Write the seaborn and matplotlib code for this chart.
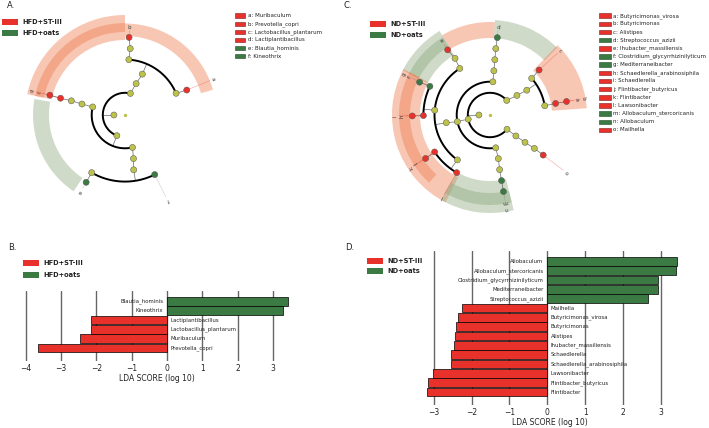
import numpy as np
import pandas as pd
import matplotlib
matplotlib.use("Agg")
import matplotlib.pyplot as plt
from matplotlib.patches import Wedge, Rectangle
import seaborn as sns

sns.set_theme(style="white")
plt.rcParams["font.family"] = ["DejaVu Sans"]

W, H = 709, 428
RED = "#e8312b"
GREEN = "#3b7a43"
NODE = "#bdc24a"
BAND_RED = "#f07a4e"
BAND_GREEN = "#8da97e"

# ---------------- Panel B data ----------------
b_taxa = ["Blautia_hominis", "Kineothrix", "Lactiplantibacillus",
          "Lactobacillus_plantarum", "Muribaculum", "Prevotella_copri"]
b_lda = [3.42, 3.30, -2.15, -2.15, -2.46, -3.65]
b_group = ["HFD+oats", "HFD+oats", "HFD+ST-III", "HFD+ST-III", "HFD+ST-III", "HFD+ST-III"]
b_groups = ["HFD+ST-III", "HFD+oats"]
b_ticks = [-4, -3, -2, -1, 0, 1, 2, 3]

# ---------------- Panel D data ----------------
d_taxa = ["Allobaculum", "Allobaculum_stercoricanis", "Clostridium_glycyrrhizinilyticum",
          "Mediterraneibacter", "Streptococcus_azizii", "Mailhella", "Butyricimonas_virosa",
          "Butyricimonas", "Alistipes", "Ihubacter_massiliensis", "Schaedlerella",
          "Schaedlerella_arabinosiphila", "Lawsonibacter", "Flintibacter_butyricus", "Flintibacter"]
d_lda = [3.42, 3.40, 2.94, 2.94, 2.66, -2.25, -2.35, -2.42, -2.44, -2.47,
         -2.55, -2.55, -3.02, -3.16, -3.19]
d_group = ["ND+oats"] * 5 + ["ND+ST-III"] * 10
d_groups = ["ND+ST-III", "ND+oats"]
d_ticks = [-3, -2, -1, 0, 1, 2, 3]

# ---------------- Panel A cladogram (taxonomy tree) ----------------
a_node = ["root", "Bacteria", "Bacteroidetes", "Bacteroidia", "Bacteroidales",
          "Prevotellaceae", "Prevotella", "Prevotella_copri", "Muribaculaceae", "Muribaculum",
          "Firmicutes", "Bacilli", "Lactobacillales", "Lactobacillaceae", "Lactiplantibacillus",
          "Lactobacillus_plantarum", "Clostridia", "Lachnospirales", "Lachnospiraceae",
          "Blautia", "Blautia_hominis", "Kineothrix"]
a_parent = [None, "root", "Bacteria", "Bacteroidetes", "Bacteroidia",
            "Bacteroidales", "Prevotellaceae", "Prevotella", "Bacteroidales", "Muribaculaceae",
            "Bacteria", "Firmicutes", "Bacilli", "Lactobacillales", "Lactobacillaceae",
            "Lactiplantibacillus", "Firmicutes", "Clostridia", "Lachnospirales",
            "Lachnospiraceae", "Blautia", "Lachnospiraceae"]
a_level = [0, 1, 2, 3, 4, 5, 6, 7, 5, 6, 2, 3, 4, 5, 6, 7, 3, 4, 5, 6, 7, 6]
a_biomarkers = ["Muribaculum", "Prevotella_copri", "Lactobacillus_plantarum",
                "Lactiplantibacillus", "Blautia_hominis", "Kineothrix"]
a_bio_group = ["HFD+ST-III"] * 4 + ["HFD+oats"] * 2
a_groups = ["HFD+ST-III", "HFD+oats"]

# ---------------- Panel C cladogram ----------------
c_node = ["root", "Bacteria",
          "Bacteroidetes", "Bacteroidia", "Bacteroidales", "Rikenellaceae", "Alistipes",
          "Odoribacteraceae", "Butyricimonas", "Butyricimonas_virosa",
          "Firmicutes", "Bacilli", "Lactobacillales", "Streptococcaceae", "Streptococcus",
          "Streptococcus_azizii",
          "Clostridia", "Eubacteriales", "Eubacteriaceae", "Ihubacter", "Ihubacter_massiliensis",
          "Lachnospiraceae", "Mediterraneibacter", "Clostridium_glycyrrhizinilyticum",
          "Schaedlerella", "Schaedlerella_arabinosiphila",
          "Oscillospiraceae", "Flintibacter", "Flintibacter_butyricus", "Lawsonibacter",
          "Erysipelotrichia", "Erysipelotrichales", "Erysipelotrichaceae", "Allobaculum",
          "Allobaculum_stercoricanis",
          "Proteobacteria", "Deltaproteobacteria", "Desulfovibrionales", "Desulfovibrionaceae",
          "Mailhella"]
c_parent = [None, "root",
            "Bacteria", "Bacteroidetes", "Bacteroidia", "Bacteroidales", "Rikenellaceae",
            "Bacteroidales", "Odoribacteraceae", "Butyricimonas",
            "Bacteria", "Firmicutes", "Bacilli", "Lactobacillales", "Streptococcaceae",
            "Streptococcus",
            "Firmicutes", "Clostridia", "Eubacteriales", "Eubacteriaceae", "Ihubacter",
            "Eubacteriales", "Lachnospiraceae", "Mediterraneibacter",
            "Lachnospiraceae", "Schaedlerella",
            "Eubacteriales", "Oscillospiraceae", "Flintibacter", "Oscillospiraceae",
            "Firmicutes", "Erysipelotrichia", "Erysipelotrichales", "Erysipelotrichaceae",
            "Allobaculum",
            "Bacteria", "Proteobacteria", "Deltaproteobacteria", "Desulfovibrionales",
            "Desulfovibrionaceae"]
c_level = [0, 1, 2, 3, 4, 5, 6, 5, 6, 7,
           2, 3, 4, 5, 6, 7,
           3, 4, 5, 6, 7, 5, 6, 7, 6, 7, 5, 6, 7, 6,
           3, 4, 5, 6, 7,
           2, 3, 4, 5, 6]
c_biomarkers = ["Butyricimonas_virosa", "Butyricimonas", "Alistipes", "Streptococcus_azizii",
                "Ihubacter_massiliensis", "Clostridium_glycyrrhizinilyticum", "Mediterraneibacter",
                "Schaedlerella_arabinosiphila", "Schaedlerella", "Flintibacter_butyricus",
                "Flintibacter", "Lawsonibacter", "Allobaculum_stercoricanis", "Allobaculum",
                "Mailhella"]
c_bio_group = ["ND+ST-III", "ND+ST-III", "ND+ST-III", "ND+oats", "ND+ST-III", "ND+oats",
               "ND+oats", "ND+ST-III", "ND+ST-III", "ND+ST-III", "ND+ST-III", "ND+ST-III",
               "ND+oats", "ND+oats", "ND+ST-III"]
c_groups = ["ND+ST-III", "ND+oats"]

# ---------------- layout (angles of the circular tree, shading rings) ----------------
a_theta = [0, 180, 76, 70.5, 67, 86, 85.5, 87, 23, 22, 248.5, 166, 165.7, 165.2, 165.4,
           165.2, 283, 281, 279, 240, 240, 296.5]
c_theta = [0, 180, 41, 36, 34, 41.3, 42.5, 9.6, 10, 10,
           191, 85, 85, 85, 85, 84.6,
           191.6, 190, 123, 121.7, 123, 175, 154.5, 155, 180.5, 180.7, 234, 213.7, 214, 240,
           280, 280.8, 280, 280, 280,
           320, 321, 322, 323, 323]
# (theta1, theta2, r_inner, r_outer, group index)
a_bands = [(16, 90, 79, 91.5, 0), (90, 168, 75, 100, 0), (90, 168, 83, 92, 0),
           (170, 236, 76, 92, 1)]
c_bands = [(87, 121, 77, 93, 0), (45, 87, 77, 95, 1), (4, 46, 62, 97, 0),
           (121, 153, 70, 98, 1), (121, 153, 80, 91, 1),
           (152, 243, 70, 98, 0), (152, 228, 80, 91, 0),
           (240, 284, 66, 98, 1), (240, 284, 78, 90, 1)]
STEP = 11.1
LETTERS = "abcdefghijklmno"

fig = plt.figure(figsize=(W / 100, H / 100), dpi=100)
fig.patch.set_facecolor("white")


def fx(px):
    return px / W


def fy(py):
    return 1 - py / H


def ftext(px, py, s, **kw):
    fig.text(fx(px), fy(py), s, **kw)


def frect(px, py_center, w, h, color, ec="none", lw=0.0):
    fig.patches.append(Rectangle((fx(px), fy(py_center + h / 2)), w / W, h / H,
                                 transform=fig.transFigure, facecolor=color,
                                 edgecolor=ec, linewidth=lw))


def draw_clade(cx, cy, node, parent, level, theta, biom, biom_group, groups, bands):
    R = 112
    ax = fig.add_axes([fx(cx - R), fy(cy + R), 2 * R / W, 2 * R / H])
    th = dict(zip(node, theta))
    lv = dict(zip(node, level))
    rad = {n: lv[n] * STEP for n in node}
    xy = {n: (rad[n] * np.cos(np.radians(th[n])), rad[n] * np.sin(np.radians(th[n]))) for n in node}
    bcol = [BAND_RED, BAND_GREEN]
    for t1, t2, ri, ro, g in bands:
        ax.add_patch(Wedge((0, 0), ro, t1, t2, width=ro - ri, facecolor=bcol[g],
                           alpha=0.42, edgecolor="none", zorder=0))
    children = {}
    for n, p in zip(node, parent):
        if p is not None:
            children.setdefault(p, []).append(n)
    for p, ch in children.items():
        if lv[p] == 0:
            continue
        if len(ch) == 1:
            c = ch[0]
            ax.plot([xy[p][0], xy[c][0]], [xy[p][1], xy[c][1]], color="#777777", lw=0.55, zorder=1)
        else:
            rc = rad[ch[0]]
            tp = np.radians(th[p])
            ax.plot([rad[p] * np.cos(tp), rc * np.cos(tp)], [rad[p] * np.sin(tp), rc * np.sin(tp)],
                    color="#777777", lw=0.55, zorder=1)
            angs = [th[c] for c in ch] + [th[p]]
            t = np.radians(np.linspace(min(angs), max(angs), 200))
            ax.plot(rc * np.cos(t), rc * np.sin(t), color="black", lw=1.4, zorder=1,
                    solid_capstyle="butt")
    gmap = dict(zip(biom, biom_group))
    df = pd.DataFrame({"x": [xy[n][0] for n in node], "y": [xy[n][1] for n in node],
                       "level": level,
                       "kind": [gmap.get(n, "none") for n in node]})
    pal = {"none": NODE, groups[0]: RED, groups[1]: GREEN}
    sns.scatterplot(data=df[df.level > 0], x="x", y="y", hue="kind", palette=pal, s=19,
                    edgecolor="#555555", linewidth=0.35, legend=False, ax=ax, zorder=3)
    ax.scatter([0], [0], s=2, color=NODE, zorder=3)
    for i, (name, g) in enumerate(zip(biom, biom_group)):
        rl = 88 if lv[name] == 7 else 95
        t = np.radians(th[name])
        col = RED if g == groups[0] else "#888888"
        ax.plot([(rad[name] + 3) * np.cos(t), (rl - 3.5) * np.cos(t)],
                [(rad[name] + 3) * np.sin(t), (rl - 3.5) * np.sin(t)],
                color=col, alpha=0.35, lw=0.5, zorder=1)
        ax.text(rl * np.cos(t), rl * np.sin(t), LETTERS[i], rotation=th[name] - 90,
                ha="center", va="center", fontsize=3.8, color="#333333",
                rotation_mode="anchor", zorder=4)
    ax.set_xlim(-R, R)
    ax.set_ylim(-R, R)
    ax.axis("off")
    return ax


def clade_legend(x0, y0, dy, biom, biom_group, groups, bw=11):
    for i, (name, g) in enumerate(zip(biom, biom_group)):
        col = RED if g == groups[0] else GREEN
        ec = "#7a1f1a" if g == groups[0] else "#1f4a25"
        y = y0 + i * dy
        frect(x0, y, bw, 4.5, col, ec=ec, lw=0.4)
        ftext(x0 + bw + 2.5, y, f"{LETTERS[i]}: {name}", fontsize=4.0, va="center",
              ha="left", color="#222222")


def group_legend(x0, y0, dy, groups, tx):
    for i, g in enumerate(groups):
        frect(x0, y0 + i * dy, 16, 6, [RED, GREEN][i])
        ftext(tx, y0 + i * dy, g, fontsize=4.8, fontweight="bold", va="center",
              ha="left", color="#222222")


def draw_lda(zero_px, unit, top, bottom, xlim, taxa, lda, group, groups, ticks):
    left = zero_px + xlim[0] * unit
    width = (xlim[1] - xlim[0]) * unit
    ax = fig.add_axes([fx(left), fy(bottom), width / W, (bottom - top) / H])
    df = pd.DataFrame({"taxon": taxa, "lda": lda, "group": group})
    sns.barplot(data=df, x="lda", y="taxon", hue="group", hue_order=groups,
                palette=[RED, GREEN], dodge=False, orient="h", width=0.94,
                edgecolor="black", linewidth=0.5, saturation=1, legend=False, ax=ax)
    n = len(taxa)
    pad_top, pad_bot = 0.61, 0.89
    ax.set_ylim(n - 0.5 + pad_bot, -0.5 - pad_top)
    ax.set_xlim(*xlim)
    ax.set_xticks(ticks)
    ax.set_yticks([])
    ax.set_ylabel("")
    ax.xaxis.grid(True, color="#666666", lw=1.0)
    ax.yaxis.grid(False)
    ax.set_axisbelow(True)
    for s in ax.spines.values():
        s.set_visible(False)
    ax.tick_params(axis="x", length=0, pad=2, labelsize=5.5, labelcolor="#222222")
    ax.set_xlabel("LDA SCORE (log 10)", fontsize=5.5, labelpad=1.2, color="#222222")
    for i, (t, v) in enumerate(zip(taxa, lda)):
        if v > 0:
            ax.annotate(t, (0, i), xytext=(-2.6, 0), textcoords="offset points",
                        ha="right", va="center", fontsize=3.9, color="#222222")
        else:
            ax.annotate(t, (0, i), xytext=(2.6, 0), textcoords="offset points",
                        ha="left", va="center", fontsize=3.9, color="#222222")
    return ax


# Panel A
draw_clade(125, 115, a_node, a_parent, a_level, a_theta, a_biomarkers, a_bio_group, a_groups, a_bands)
clade_legend(235, 15.7, 8.06, a_biomarkers, a_bio_group, a_groups, bw=10)
group_legend(2, 21.7, 11.6, a_groups, 22.7)
ftext(7, 6, "A.", fontsize=6, va="center", ha="left", color="#222222")

# Panel C
draw_clade(490, 115, c_node, c_parent, c_level, c_theta, c_biomarkers, c_bio_group, c_groups, c_bands)
clade_legend(599, 15.7, 8.16, c_biomarkers, c_bio_group, c_groups, bw=11.5)
group_legend(370, 24.3, 10.7, c_groups, 390.7)
ftext(344, 6, "C.", fontsize=6, va="center", ha="left", color="#222222")

# Panel B
draw_lda(167, 35.3, 291, 361, (-4.2, 3.6), b_taxa, b_lda, b_group, b_groups, b_ticks)
group_legend(22.7, 263.3, 11.7, b_groups, 43.3)
ftext(8, 247, "B.", fontsize=6, va="center", ha="left", color="#222222")

# Panel D
draw_lda(547.3, 37.8, 251, 405, (-3.45, 3.6), d_taxa, d_lda, d_group, d_groups, d_ticks)
group_legend(366.7, 260.7, 10.6, d_groups, 387.3)
ftext(345, 247, "D.", fontsize=6, va="center", ha="left", color="#222222")

fig.savefig("out.png", dpi=100, facecolor="white")
